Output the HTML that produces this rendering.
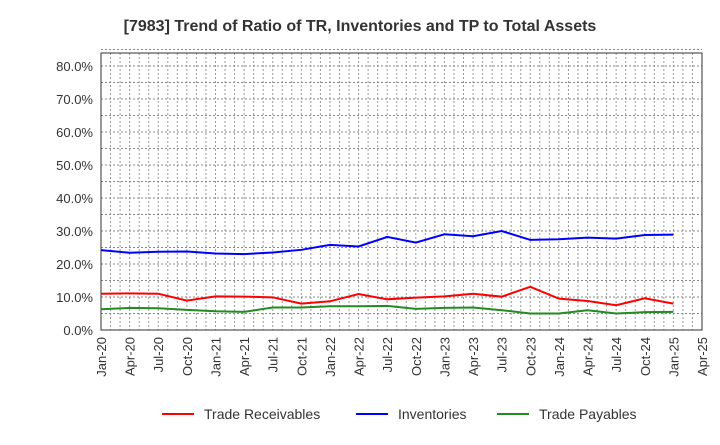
<!DOCTYPE html>
<html><head><meta charset="utf-8"><style>
body{margin:0;background:#fff;font-family:"Liberation Sans",sans-serif;}
svg text{font-family:"Liberation Sans",sans-serif;}
</style></head><body>
<svg id="chart" width="720" height="440" xmlns="http://www.w3.org/2000/svg">
<text x="360" y="31" text-anchor="middle" font-size="16" font-weight="bold" fill="#333">[7983]  Trend of Ratio of TR, Inventories and TP to Total Assets</text>
<g id="grid"></g><g id="axes"></g><g id="series"></g><g id="legend"></g>
</svg>
<script>
const xLabels=["Jan-20","Apr-20","Jul-20","Oct-20","Jan-21","Apr-21","Jul-21","Oct-21","Jan-22","Apr-22","Jul-22","Oct-22","Jan-23","Apr-23","Jul-23","Oct-23","Jan-24","Apr-24","Jul-24","Oct-24","Jan-25","Apr-25"];
const yTicks=[0,10,20,30,40,50,60,70,80];
const receivables=[11.0,11.1,11.0,8.9,10.2,10.1,9.9,8.0,8.7,10.9,9.3,9.8,10.2,11.0,10.1,13.1,9.5,8.8,7.5,9.6,8.0];
const inventories=[24.2,23.4,23.7,23.8,23.2,23.0,23.5,24.3,25.8,25.3,28.2,26.5,29.0,28.4,30.0,27.3,27.5,28.0,27.7,28.8,28.9];
const payables=[6.3,6.7,6.6,6.1,5.7,5.5,6.8,6.8,7.2,7.2,7.3,6.4,6.7,6.8,6.0,5.0,5.0,6.0,5.0,5.4,5.5];
const L=101,R=702,T=53,B=330;
const NS="http://www.w3.org/2000/svg";
const xq=i=>L+(R-L)*i/21;
const y=v=>B-v*3.3;
function mk(t,a,p){const e=document.createElementNS(NS,t);for(const k in a)e.setAttribute(k,a[k]);p.appendChild(e);return e;}
const grid=document.getElementById('grid'),axes=document.getElementById('axes'),ser=document.getElementById('series'),leg=document.getElementById('legend');
for(let m=1;m<63;m++){const x=L+(R-L)*m/63;
const g=mk('line',{x1:x,x2:x,y1:T,y2:B,stroke:'#999','stroke-dasharray':'2,2','stroke-width':1},grid);

}
for(let v=0;v<=85;v+=5){if(v===0)continue;const yy=y(v);
const g=mk('line',{x1:L,x2:R,y1:yy,y2:yy,stroke:'#888','stroke-dasharray':'2,2','stroke-width':1},grid);

}
const fr=mk('rect',{x:L,y:T,width:R-L,height:B-T,fill:'none',stroke:'#333','stroke-width':1},axes);


yTicks.forEach(v=>{const t=mk('text',{x:L-8,y:y(v)+5,'text-anchor':'end','font-size':13,fill:'#333'},axes);t.textContent=v.toFixed(1)+'%';

});
xLabels.forEach((s,i)=>{const x=xq(i);const t=mk('text',{x:0,y:0,transform:`translate(${x+5},${B+7}) rotate(-90)`,'text-anchor':'end','font-size':13,fill:'#333'},axes);t.textContent=s;

});
function line(d,c,n){const p=mk('polyline',{points:d.map((v,i)=>xq(i)+','+y(v)).join(' '),fill:'none',stroke:c,'stroke-width':2},ser);

}
line(receivables,'#ff0000','trade-receivables-line');
line(inventories,'#0000ff','inventories-line');
line(payables,'#228b22','trade-payables-line');
[['Trade Receivables','#ff0000',162],['Inventories','#0000ff',356],['Trade Payables','#228b22',497]].forEach(([s,c,x])=>{
const g=mk('g',{},leg);


mk('line',{x1:x,x2:x+32,y1:414,y2:414,stroke:c,'stroke-width':2},g);
const t=mk('text',{x:x+42,y:419,'font-size':14,fill:'#333'},g);t.textContent=s;});
</script>
</body></html>
